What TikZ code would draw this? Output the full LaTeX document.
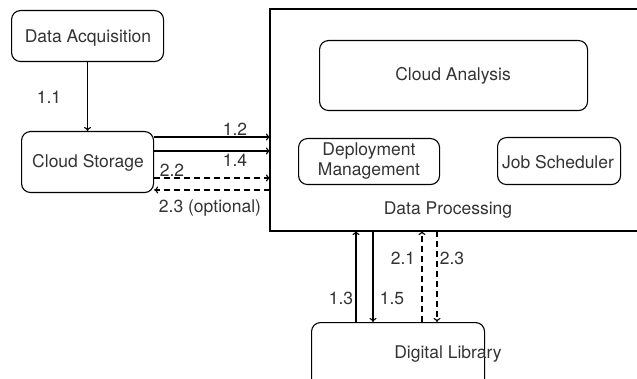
\documentclass[tikz,border=0pt]{standalone}
\usepackage{fontspec}
\setmainfont{TeX Gyre Heros}
\usetikzlibrary{arrows.meta}
\begin{document}
\begin{tikzpicture}[x=1pt,y=-1pt,
  box/.style={draw,line width=1.1pt,rounded corners=9pt,inner sep=0pt},
  lbl/.style={font=\fontsize{17.5}{19.5}\selectfont,text=black!80,inner sep=0pt},
  conn/.style={line width=1.1pt,-{To[length=4pt,width=7pt]}},
  dconn/.style={conn,dash pattern=on 6pt off 4pt}]
\useasboundingbox (0,0) rectangle (637,379);
% boxes
\node[box,minimum width=152pt,minimum height=51pt,anchor=north west] (da) at (11,10) {};
\node[lbl] (datxt) at (88,38) {Data Acquisition};
\node[box,minimum width=132pt,minimum height=61pt,anchor=north west] (cs) at (21,131) {};
\node[lbl] (cstxt) at (88,163) {Cloud Storage};
\draw[line width=1.1pt] (645,9) -- (270,9) -- (270,231) -- (645,231);
\coordinate (dpl) at (270,0);
\coordinate (dpb) at (0,231);
\node[box,minimum width=268pt,minimum height=70pt,anchor=north west] (ca) at (319,40) {};
\node[lbl] (catxt) at (453,76) {Cloud Analysis};
\node[box,minimum width=141pt,minimum height=46pt,anchor=north west] (dm) at (298,138) {};
\node[lbl,align=center] (dmtxt) at (369,161) {Deployment\\Management};
\node[box,minimum width=123pt,minimum height=47pt,anchor=north west] (js) at (497,137) {};
\node[lbl] (jstxt) at (558,162) {Job Scheduler};
\node[lbl] (dptxt) at (448,210) {Data Processing};
\node[box,minimum width=173pt,minimum height=80pt,anchor=north west] (dl) at (311,322) {};
\node[lbl] (dltxt) at (448,354) {Digital Library};
% connectors
\draw[conn] (da.south) -- (cs.north);
\node[lbl] at (49,97) {1.1};
\draw[conn] (cs.east |- 0,137) -- (dpl |- 0,137);
\node[lbl] at (235,129) {1.2};
\draw[conn] (cs.east |- 0,151) -- (dpl |- 0,151);
\node[lbl] at (235,160) {1.4};
\draw[dconn] (cs.east |- 0,178) -- (dpl |- 0,178);
\node[lbl] at (172,170) {2.2};
\draw[dconn] (dpl |- 0,190) -- (cs.east |- 0,190);
\node[lbl] at (210,208) {2.3 (optional)};
\draw[conn] (dl.north -| 356,0) -- (dpb -| 356,0);
\node[lbl] at (341,298) {1.3};
\draw[conn] (dpb -| 373,0) -- (dl.north -| 373,0);
\node[lbl] at (392,298) {1.5};
\draw[dconn] (dl.north -| 422,0) -- (dpb -| 422,0);
\node[lbl] at (403,258) {2.1};
\draw[dconn] (dpb -| 437,0) -- (dl.north -| 437,0);
\node[lbl] at (452,258) {2.3};
\end{tikzpicture}
\end{document}
